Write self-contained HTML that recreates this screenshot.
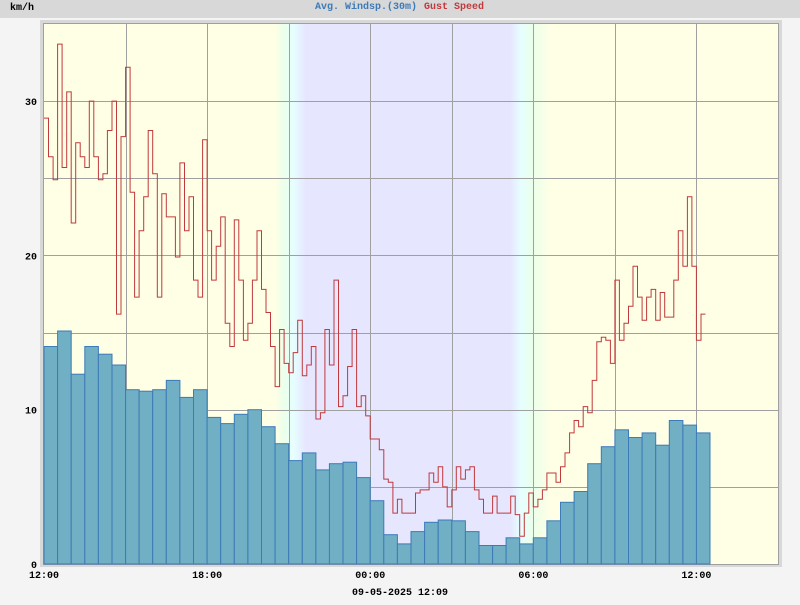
<!DOCTYPE html>
<html><head><meta charset="utf-8"><style>
body{margin:0;background:#f4f4f4;width:800px;height:600px;overflow:hidden;font-family:"Liberation Mono",monospace}
text{font-family:"Liberation Mono",monospace;font-weight:bold;font-size:10px}
</style></head><body>
<svg width="800" height="600" xmlns="http://www.w3.org/2000/svg">
<defs>
<linearGradient id="bgGrad" x1="44" x2="778" y1="0" y2="0" gradientUnits="userSpaceOnUse">
<stop offset="0" stop-color="#ffffe6"/>
<stop offset="0.315" stop-color="#ffffe6"/>
<stop offset="0.327" stop-color="#eaffea"/>
<stop offset="0.34" stop-color="#e6ffff"/>
<stop offset="0.357" stop-color="#e6e6ff"/>
<stop offset="0.635" stop-color="#e6e6ff"/>
<stop offset="0.65" stop-color="#e6ffff"/>
<stop offset="0.665" stop-color="#eaffea"/>
<stop offset="0.69" stop-color="#ffffe6"/>
<stop offset="1" stop-color="#ffffe6"/>
</linearGradient>
</defs>
<rect x="0" y="0" width="800" height="18" fill="#d8d8d8"/>
<text x="10" y="10" fill="#000">km/h</text>
<text x="315" y="9" fill="#3d7ab8">Avg. Windsp.(30m)</text>
<text x="424" y="9" fill="#c0393c">Gust Speed</text>
<rect x="40.5" y="20.5" width="741" height="546" fill="#d8d8d8" stroke="#d8d8d8"/>
<rect x="43.5" y="23.5" width="735" height="541" fill="url(#bgGrad)" stroke="#a0a0a0"/>
<g id="gridLayer"></g>
<g id="barLayer"></g>
<path id="gustPath" fill="none" stroke="#c0393c" stroke-width="1"/>
<g id="labelLayer"></g>
<text x="400" y="595" text-anchor="middle" fill="#000">09-05-2025 12:09</text>
</svg>
<script>
var avgWind=[14.1,15.1,12.3,14.1,13.6,12.9,11.3,11.2,11.3,11.9,10.8,11.3,9.5,9.1,9.7,10.0,8.9,7.8,6.7,7.2,6.1,6.5,6.6,5.6,4.1,1.9,1.3,2.1,2.7,2.85,2.8,2.1,1.2,1.2,1.7,1.3,1.7,2.8,4.0,4.7,6.5,7.6,8.7,8.2,8.5,7.7,9.3,9.0,8.5];
var gustValues=[28.9,26.4,24.9,33.7,25.7,30.6,22.1,27.3,26.4,25.7,30,26.4,24.9,25.3,28.1,30,16.2,27.7,32.2,24.1,17.3,21.6,23.8,28.1,25.3,17.3,24.0,22.5,22.5,19.9,26,21.6,23.8,18.4,17.3,27.5,21.6,
18.4,20.6,22.5,15.6,14.1,22.3,18.4,14.5,15.6,18.4,21.6,17.8,16.3,14.1,11.5,15.2,13,12.4,13.7,15.8,12.2,12.9,14.1,9.4,9.8,15.2,12.9,18.4,10.2,10.9,12.8,15.2,10.2,10.9,9.6,8.1,
8.1,7.4,5.5,5.3,3.3,4.2,3.3,3.3,3.3,4.6,4.8,4.8,5.9,5.3,6.3,5.0,3.7,4.8,6.3,5.5,6.1,6.3,4.8,4.2,3.3,3.3,4.4,3.3,3.3,3.3,4.4,3.2,1.8,3.3,4.6,3.7,4.2,4.8,5.9,5.9,5.3,
6.3,7.2,8.5,9.3,8.9,10.2,9.8,11.9,14.4,14.7,14.5,13,18.4,14.5,15.6,16.7,19.3,17.3,15.8,17.3,17.8,15.8,17.6,16,16,18.4,21.6,19.3,23.8,19.3,14.5,16.2];
var yTicks=[0,10,20,30];
var xTickLabels=["12:00","18:00","00:00","06:00","12:00"];
var PX0=44,PX1=778,PY0=564,PY1=24,HOURS=27,YMAX=35;
function xh(h){return PX0+(PX1-PX0)*h/HOURS;}
function yv(v){return PY0-(PY0-PY1)*v/YMAX;}
var SVGNS="http://www.w3.org/2000/svg";
function mk(t,a,p){var e=document.createElementNS(SVGNS,t);for(var k in a){e.setAttribute(k,String(a[k]));}p.appendChild(e);return e;}
try{
var gLayer=document.getElementById('gridLayer');
for(var v=5;v<YMAX;v+=5){var yy=Math.round(yv(v))+0.5;var l=mk('line',{x1:PX0,x2:PX1,y1:yy,y2:yy,stroke:'#a0a0a0'},gLayer);

}
for(var h=3;h<HOURS;h+=3){var xx=Math.round(xh(h))+0.5;var l2=mk('line',{x1:xx,x2:xx,y1:PY1,y2:PY0,stroke:'#a0a0a0'},gLayer);

}
var bLayer=document.getElementById('barLayer');
for(var i=0;i<avgWind.length;i++){var bx=xh(i*0.5),bw=xh((i+1)*0.5)-bx,by=yv(avgWind[i]);
var r=mk('rect',{x:bx.toFixed(1),y:by.toFixed(1),width:bw.toFixed(1),height:(PY0-by).toFixed(1),fill:'#70afc4',stroke:'#3d7ab8','stroke-width':1},bLayer);

}
var d='';
for(var j=0;j<gustValues.length;j++){var gx=xh(j/6).toFixed(1),gy=yv(gustValues[j]).toFixed(1);
if(j===0){d+='M'+gx+' '+gy;}else{d+=' H'+gx+' V'+gy;}}
d+=' H'+xh(gustValues.length/6).toFixed(1);
document.getElementById('gustPath').setAttribute('d',d);
var lLayer=document.getElementById('labelLayer');
for(var m=0;m<yTicks.length;m++){var t=mk('text',{x:37,y:yv(yTicks[m])+4,'text-anchor':'end',fill:'#000'},lLayer);t.textContent=String(yTicks[m]);

}
for(var n=0;n<xTickLabels.length;n++){var t2=mk('text',{x:xh(n*6),y:578,'text-anchor':'middle',fill:'#000'},lLayer);t2.textContent=xTickLabels[n];

}
}catch(err){}
</script>
</body></html>
